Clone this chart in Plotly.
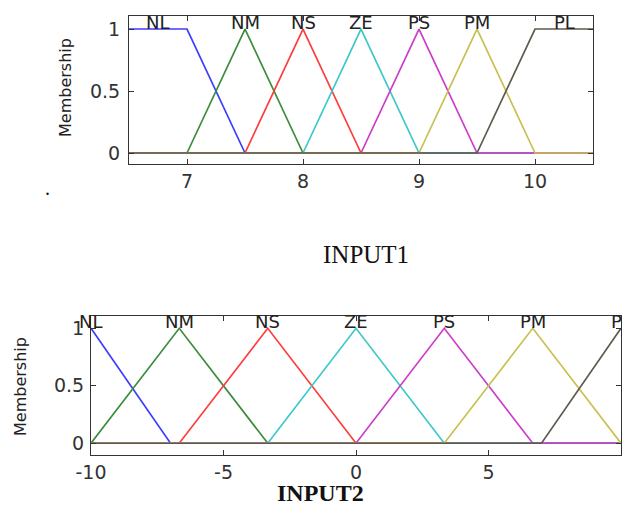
import plotly.graph_objects as go

# ---- data ----
mf_names = ["NL", "NM", "NS", "ZE", "PS", "PM", "PL"]
mf_colors = ["#3c3cff", "#3c8c3c", "#ff3c3c", "#3cc8c8", "#cc3ccc", "#c8c050", "#5e5a4e"]

# INPUT1 membership functions (breakpoints)
in1_x = [
    [6.5, 7.0, 7.5, 10.5],
    [6.5, 7.0, 7.5, 8.0, 10.5],
    [6.5, 7.5, 8.0, 8.5, 10.5],
    [6.5, 8.0, 8.5, 9.0, 10.5],
    [6.5, 8.5, 9.0, 9.5, 10.5],
    [6.5, 9.0, 9.5, 10.0, 10.5],
    [6.5, 9.5, 10.0, 10.5],
]
in1_y = [
    [1, 1, 0, 0],
    [0, 0, 1, 0, 0],
    [0, 0, 1, 0, 0],
    [0, 0, 1, 0, 0],
    [0, 0, 1, 0, 0],
    [0, 0, 1, 0, 0],
    [0, 0, 1, 1],
]
in1_label_x = [6.75, 7.5, 8.0, 8.5, 9.0, 9.5, 10.25]
in1_xticks = [7, 8, 9, 10]
in1_xtick_text = ["7", "8", "9", "10"]

# INPUT2 membership functions (breakpoints)
in2_x = [
    [-10, -7, 10],
    [-10, -6.67, -3.33, 10],
    [-10, -6.67, -3.33, 0, 10],
    [-10, -3.33, 0, 3.33, 10],
    [-10, 0, 3.33, 6.67, 10],
    [-10, 3.33, 6.67, 10],
    [-10, 7, 10],
]
in2_y = [
    [1, 0, 0],
    [0, 1, 0, 0],
    [0, 0, 1, 0, 0],
    [0, 0, 1, 0, 0],
    [0, 0, 1, 0, 0],
    [0, 0, 1, 0],
    [0, 0, 1],
]
in2_label_x = [-10, -6.67, -3.33, 0, 3.33, 6.67, 10]
in2_xticks = [-10, -5, 0, 5, 10]
in2_xtick_text = ["-10", "-5", "0", "5", "10"]

yticks = [0, 0.5, 1]
ytick_text = ["0", "0.5", "1"]
label_y = 1.056

# page body has an 8px margin; lay out in window pixels and convert
OX, OY = 8, 8
W, H = 631 - OX, 507 - OY


def px(X):
    return (X - OX) / W


def py(Y):
    return 1 - (Y - OY) / H


fig = go.Figure()

for i in range(len(mf_names)):
    fig.add_trace(go.Scatter(x=in1_x[i], y=in1_y[i], mode="lines",
                             line=dict(color=mf_colors[i], width=1.7),
                             xaxis="x", yaxis="y", showlegend=False, hoverinfo="skip"))
for i in range(len(mf_names)):
    fig.add_trace(go.Scatter(x=in2_x[i], y=in2_y[i], mode="lines",
                             line=dict(color=mf_colors[i], width=1.7),
                             xaxis="x2", yaxis="y2", showlegend=False, hoverinfo="skip"))

annotations = []
lab_font = dict(family="DejaVu Sans", size=18, color="#222222")
for i, n in enumerate(mf_names):
    annotations.append(dict(x=in1_label_x[i], y=label_y, xref="x", yref="y", text=n,
                            showarrow=False, font=lab_font, xanchor="center", yanchor="middle"))
    annotations.append(dict(x=in2_label_x[i], y=label_y, xref="x2", yref="y2", text=n,
                            showarrow=False, font=lab_font, xanchor="center", yanchor="middle"))

annotations.append(dict(x=px(366), y=py(254), xref="paper", yref="paper", text="INPUT1",
                        showarrow=False, font=dict(family="Liberation Serif", size=25, color="#111111"),
                        xanchor="center", yanchor="middle"))
annotations.append(dict(x=px(320), y=py(493), xref="paper", yref="paper", text="<b>INPUT2</b>",
                        showarrow=False, font=dict(family="Liberation Serif", size=24, color="#111111"),
                        xanchor="center", yanchor="middle"))
annotations.append(dict(x=px(47), y=py(188), xref="paper", yref="paper", text=".",
                        showarrow=False, font=dict(family="Liberation Serif", size=20, color="#111111"),
                        xanchor="center", yanchor="middle"))
# y-axis titles
annotations.append(dict(x=px(66), y=py(88), xref="paper", yref="paper", text="Membership",
                        textangle=-90, showarrow=False,
                        font=dict(family="DejaVu Sans", size=16, color="#222222"),
                        xanchor="center", yanchor="middle"))
annotations.append(dict(x=px(20), y=py(387), xref="paper", yref="paper", text="Membership",
                        textangle=-90, showarrow=False,
                        font=dict(family="DejaVu Sans", size=16, color="#222222"),
                        xanchor="center", yanchor="middle"))

tick_font = dict(family="DejaVu Sans", size=19, color="#333333")
common_x = dict(showgrid=False, zeroline=False, showline=True, mirror="allticks",
                linecolor="#333333", linewidth=1, ticks="inside", ticklen=5,
                tickcolor="#333333", tickfont=tick_font, fixedrange=True, automargin=False)
common_y = dict(showgrid=False, zeroline=False, showline=True, mirror="allticks",
                linecolor="#333333", linewidth=1, ticks="inside", ticklen=5,
                tickcolor="#333333", tickfont=tick_font, tickvals=yticks,
                ticktext=ytick_text, fixedrange=True, automargin=False)

fig.update_layout(
    width=W, height=H,
    margin=dict(l=0, r=0, t=0, b=0, pad=0),
    paper_bgcolor="white", plot_bgcolor="white",
    showlegend=False,
    xaxis=dict(common_x, domain=[px(129), px(593)], range=[6.5, 10.5],
               tickvals=in1_xticks, ticktext=in1_xtick_text, anchor="y", ticklabelstandoff=0),
    yaxis=dict(common_y, domain=[py(164), py(16)], range=[-0.0887, 1.105],
               anchor="x", ticklabelstandoff=4),
    xaxis2=dict(common_x, domain=[px(91), px(621)], range=[-10, 10],
                tickvals=in2_xticks, ticktext=in2_xtick_text, anchor="y2", ticklabelstandoff=0),
    yaxis2=dict(common_y, domain=[py(455), py(316)], range=[-0.102, 1.107],
                anchor="x2", ticklabelstandoff=2),
    annotations=annotations,
)

fig.write_html("out.html")
